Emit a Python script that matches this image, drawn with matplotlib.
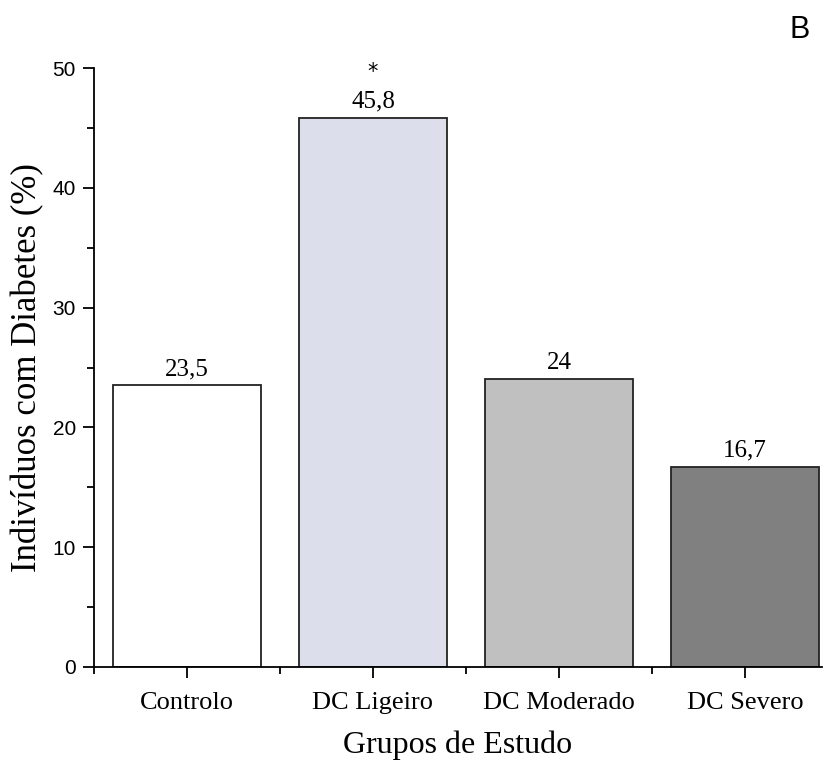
import matplotlib.pyplot as plt
from matplotlib.ticker import MultipleLocator, FixedLocator

# Percentagem de indivíduos com diabetes por grupo
grupos = ['Controlo', 'DC Ligeiro', 'DC Moderado', 'DC Severo']
valores = [23.5, 45.8, 24.0, 16.7]
rotulos = ['23,5', '45,8', '24', '16,7']
cores = ['#ffffff', '#dcdfeb', '#c0c0c0', '#808080']
signif = ['', '*', '', '']

fig = plt.figure(figsize=(8.3, 7.64), dpi=100)
ax = fig.add_axes([94 / 830, 1 - 667 / 764, (822 - 94) / 830, (667 - 68) / 764])

pos = list(range(1, len(grupos) + 1))
ax.bar(pos, valores, width=0.8, color=cores, edgecolor='#222222', linewidth=1.3)

serif = 'Liberation Serif'
for x, v, r, s in zip(pos, valores, rotulos, signif):
    ax.text(x, v + 0.45, r, ha='center', va='bottom', fontsize=18, family=serif)
    if s:
        ax.text(x, v + 3.0, s, ha='center', va='bottom', fontsize=15, family='DejaVu Sans')

ax.set_xlim(0.5, 4.5 - 16 / 186)
ax.set_ylim(0, 50)

ax.spines['top'].set_visible(False)
ax.spines['right'].set_visible(False)
for sp in ['left', 'bottom']:
    ax.spines[sp].set_linewidth(1.3)

ax.yaxis.set_major_locator(MultipleLocator(10))
ax.yaxis.set_minor_locator(MultipleLocator(5))
ax.xaxis.set_major_locator(FixedLocator(pos))
ax.xaxis.set_minor_locator(FixedLocator([0.5, 1.5, 2.5, 3.5]))
ax.set_xticklabels(grupos, family=serif, fontsize=19)
ax.tick_params(axis='both', which='major', direction='out', length=8, width=1.3)
ax.tick_params(axis='both', which='minor', direction='out', length=5, width=1.3)
ax.tick_params(axis='x', pad=10)
ax.tick_params(axis='y', labelsize=15, pad=5)
for lbl in ax.get_yticklabels():
    lbl.set_family('Liberation Sans')

ax.set_ylabel('Indivíduos com Diabetes (%)', family=serif, fontsize=25, labelpad=6)
ax.set_xlabel('Grupos de Estudo', family=serif, fontsize=23, labelpad=12)

fig.text(800 / 830, 1 - 30 / 764, 'B', family='Liberation Sans', fontsize=22,
         ha='center', va='center')

fig.savefig('out.png', dpi=100)
